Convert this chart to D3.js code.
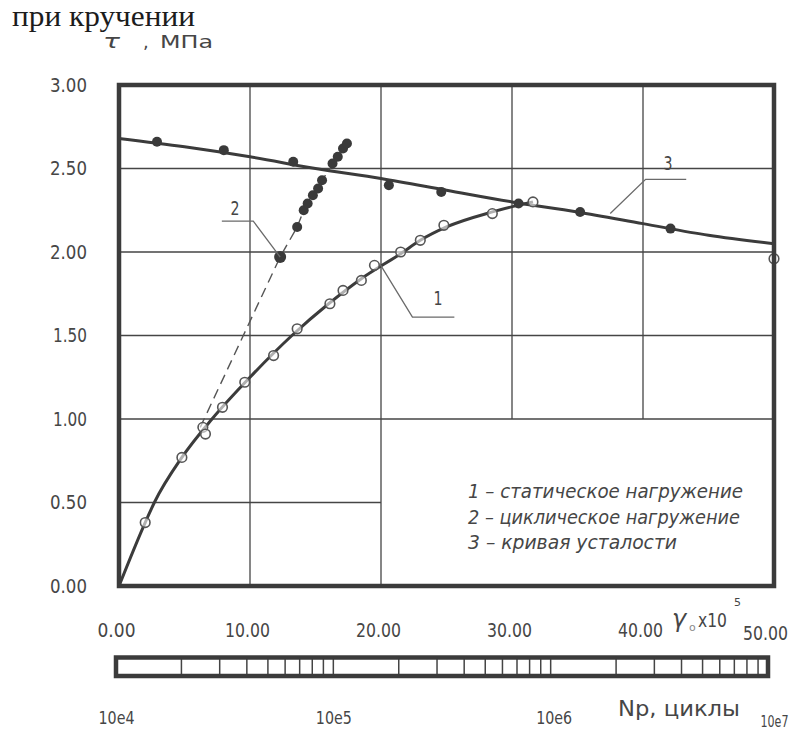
<!DOCTYPE html>
<html>
<head>
<meta charset="utf-8">
<script src="https://cdn.jsdelivr.net/npm/d3@7"></script>
<style>
  body { margin: 0; background: #fff; }
  svg { display: block; }
  .tech { font-family: "DejaVu Sans", "Liberation Sans", sans-serif; fill: #464646; }
</style>
</head>
<body>
<svg id="chart" width="799" height="732"></svg>
<script>
// ---- axis ticks ----
const xTicks = [0, 10, 20, 30, 40, 50];
const yTicks = [0, 0.5, 1.0, 1.5, 2.0, 2.5, 3.0];
const cycleTicks = [1e4, 1e5, 1e6, 1e7];
const cycleTickLabels = ["10e4", "10e5", "10e6", "10e7"];

// ---- curve 1: static loading (solid line, open circles) ----
const staticLineX = [0, 2.0, 2.7, 4.8, 7.1, 10, 13.2, 16, 18.5, 21.5, 23, 25, 28.5, 31.6];
const staticLineY = [0, 0.38, 0.5, 0.77, 1.0, 1.25, 1.5, 1.69, 1.84, 1.99, 2.07, 2.15, 2.24, 2.30];
const staticPtsX = [2.0, 4.8, 6.4, 6.6, 7.9, 9.6, 11.8, 13.6, 16.1, 17.1, 18.5, 19.5, 21.5, 23.0, 24.8, 28.5, 31.6, 50.0];
const staticPtsY = [0.38, 0.77, 0.95, 0.91, 1.07, 1.22, 1.38, 1.54, 1.69, 1.77, 1.83, 1.92, 2.00, 2.07, 2.16, 2.23, 2.30, 1.96];

// ---- curve 2: cyclic loading (dashed line, filled dots) ----
const cyclicLineX = [6.2, 12.3, 13.6, 14.1, 15.5, 17.4];
const cyclicLineY = [0.95, 1.97, 2.15, 2.25, 2.43, 2.65];
const cyclicPtsX = [12.3, 13.6, 14.1, 14.4, 14.8, 15.2, 15.5, 16.3, 16.7, 17.1, 17.4];
const cyclicPtsY = [1.97, 2.15, 2.25, 2.29, 2.34, 2.38, 2.43, 2.53, 2.57, 2.62, 2.65];

// ---- curve 3: fatigue curve (solid line, filled dots) ----
const fatigueLineX = [0, 5, 10, 15, 20, 25, 30, 35, 40, 45, 50];
const fatigueLineY = [2.68, 2.63, 2.57, 2.50, 2.44, 2.37, 2.30, 2.24, 2.17, 2.10, 2.05];
const fatiguePtsX = [2.9, 8.0, 13.3, 20.6, 24.6, 30.5, 35.2, 42.1];
const fatiguePtsY = [2.66, 2.61, 2.54, 2.40, 2.36, 2.29, 2.24, 2.14];

// ---- texts ----
const titleText = "при кручении";
const yAxisSymbol = "τ";
const yAxisUnit = "МПа";
const cycleAxisTitle = "Np, циклы";
const legendLines = ["1 – статическое нагружение", "2 – циклическое нагружение", "3 – кривая усталости"];

const zip = (xs, ys) => xs.map((v, i) => [v, ys[i]]);

const svg = d3.select("#chart");
const ink = "#3b3b3b";

// plot scales: shear strain (x) and shear stress (y)
const x = d3.scaleLinear().domain([0, 50]).range([119, 774]);
const y = d3.scaleLinear().domain([0, 3]).range([586, 85]);
// cycles-to-failure strip under the plot
const n = d3.scaleLog().domain([1e4, 1e7]).range([116, 768]);

// narrow lettering: squeeze glyphs to a given width
const narrow = (sel, w) => sel.attr("textLength", w).attr("lengthAdjust", "spacingAndGlyphs");

// title
svg.append("text")
  .attr("x", 12).attr("y", 26)
  .attr("textLength", 183).attr("lengthAdjust", "spacingAndGlyphs")
  .style("font-family", "'Liberation Serif', 'DejaVu Serif', serif")
  .style("font-size", "30px").style("fill", "#1c1c1c")
  .text(titleText);

// y axis title: τ , МПа
narrow(svg.append("text").attr("class", "tech")
  .attr("x", 103).attr("y", 48).style("font-size", "19px").style("font-style", "italic")
  .text(yAxisSymbol), 17);
svg.append("text").attr("class", "tech")
  .attr("x", 143).attr("y", 48).style("font-size", "18px").text(",");
narrow(svg.append("text").attr("class", "tech")
  .attr("x", 160).attr("y", 48).style("font-size", "18px")
  .text(yAxisUnit), 53);

// grid (the lower-right corner is left free for the legend)
const grid = svg.append("g").attr("stroke", "#454545").attr("stroke-width", 1.3);
xTicks.filter(t => t > 0 && t < 50).forEach(t => {
  grid.append("line")
    .attr("x1", x(t)).attr("x2", x(t))
    .attr("y1", y(3)).attr("y2", t > 20 ? y(1.0) : y(0));
});
yTicks.filter(t => t > 0 && t < 3).forEach(t => {
  grid.append("line")
    .attr("y1", y(t)).attr("y2", y(t))
    .attr("x1", x(0)).attr("x2", t < 1.0 ? x(20) : x(50));
});

// tick labels
const fmt = d3.format(".2f");
const yAxis = svg.append("g").attr("transform", `translate(${x(0)},0)`)
  .call(d3.axisLeft(y).tickValues(yTicks).tickFormat(fmt).tickSize(0).tickPadding(32));
yAxis.select(".domain").remove();
yAxis.selectAll("text").attr("class", "tech").style("font-size", "19px")
  .attr("textLength", d => fmt(d).startsWith("1") ? 34 : 37)
  .attr("lengthAdjust", "spacingAndGlyphs");

const xAxis = svg.append("g").attr("transform", `translate(0,${y(0)})`)
  .call(d3.axisBottom(x).tickValues(xTicks).tickFormat(fmt).tickSize(0));
xAxis.select(".domain").remove();
xAxis.selectAll("text").attr("class", "tech")
  .attr("dy", 0).attr("y", d => d === 50 ? 54 : 51).attr("x", d => d === 50 ? -9 : -3)
  .style("font-size", "19px")
  .attr("textLength", d => fmt(d).length === 4 ? 38 : 45)
  .attr("lengthAdjust", "spacingAndGlyphs");

// x axis title: γ0 x 10^5
const gx = svg.append("g").attr("class", "tech");
gx.append("text").attr("x", 672).attr("y", 627).style("font-size", "24px").style("font-style", "italic").text("γ");
gx.append("text").attr("x", 689).attr("y", 631).style("font-size", "11px").style("fill", "#8a8a8a").text("o");
narrow(gx.append("text").attr("x", 698).attr("y", 627).style("font-size", "19px").text("x10"), 29);
gx.append("text").attr("x", 734).attr("y", 606).style("font-size", "11px").text("5");

// curves
const line = d3.line().x(d => x(d[0])).y(d => y(d[1]));

svg.append("path")
  .datum(zip(cyclicLineX, cyclicLineY))
  .attr("d", line.curve(d3.curveLinear))
  .attr("fill", "none").attr("stroke", "#555").attr("stroke-width", 1.4)
  .attr("stroke-dasharray", "10,6");

svg.append("path")
  .datum(zip(fatigueLineX, fatigueLineY))
  .attr("d", line.curve(d3.curveMonotoneX))
  .attr("fill", "none").attr("stroke", ink).attr("stroke-width", 3);

svg.append("path")
  .datum(zip(staticLineX, staticLineY))
  .attr("d", line.curve(d3.curveMonotoneX))
  .attr("fill", "none").attr("stroke", ink).attr("stroke-width", 3);

// markers
svg.append("g").selectAll("circle")
  .data(zip(staticPtsX, staticPtsY)).join("circle")
  .attr("cx", d => x(d[0])).attr("cy", d => y(d[1])).attr("r", 4.8)
  .attr("fill", "#fff").attr("fill-opacity", 0.6)
  .attr("stroke", "#555").attr("stroke-width", 1.6);

svg.append("g").selectAll("circle")
  .data(zip(fatiguePtsX, fatiguePtsY)).join("circle")
  .attr("cx", d => x(d[0])).attr("cy", d => y(d[1])).attr("r", 5)
  .attr("fill", "#3a3a3a");

svg.append("g").selectAll("circle")
  .data(zip(cyclicPtsX, cyclicPtsY)).join("circle")
  .attr("cx", d => x(d[0])).attr("cy", d => y(d[1]))
  .attr("r", (d, i) => i === 0 ? 6 : 5)
  .attr("fill", "#3a3a3a");

// numbered callouts with leader lines
const callouts = [
  { label: "1", text: [24.35, 1.68], path: [[19.9, 1.93], [22.4, 1.61], [25.6, 1.61]] },
  { label: "2", text: [8.85, 2.22], path: [[12.3, 1.97], [10.25, 2.185], [7.85, 2.185]] },
  { label: "3", text: [41.9, 2.49], path: [[37.5, 2.23], [40.2, 2.435], [43.3, 2.435]] }
];
const cg = svg.append("g");
callouts.forEach(c => {
  cg.append("path")
    .datum(c.path)
    .attr("d", d3.line().x(d => x(d[0])).y(d => y(d[1])))
    .attr("fill", "none").attr("stroke", "#6a6a6a").attr("stroke-width", 1.3);
  cg.append("text").attr("class", "tech")
    .attr("x", x(c.text[0])).attr("y", y(c.text[1]))
    .attr("text-anchor", "middle")
    .style("font-size", "20px")
    .attr("textLength", 9).attr("lengthAdjust", "spacingAndGlyphs")
    .text(c.label);
});

// legend
const lg = svg.append("g");
const legendWidths = [275, 272, 209];
legendLines.forEach((t, i) => {
  lg.append("text").attr("class", "tech")
    .attr("x", 468).attr("y", 498 + i * 25.5)
    .attr("textLength", legendWidths[i]).attr("lengthAdjust", "spacingAndGlyphs")
    .style("font-size", "20px").style("font-style", "italic")
    .text(t);
});

// plot frame
svg.append("rect")
  .attr("x", x(0)).attr("y", y(3))
  .attr("width", x(50) - x(0)).attr("height", y(0) - y(3))
  .attr("fill", "none").attr("stroke", ink).attr("stroke-width", 4.5);

// cycles strip (log scale)
const stripTop = 657.5, stripBottom = 676;
const minorTicks = [];
for (let e = 4; e < 7; e++) {
  for (let m = 2; m <= 9; m++) minorTicks.push(m * Math.pow(10, e));
}
minorTicks.push(1e5, 1e6);
svg.append("g").selectAll("line")
  .data(minorTicks).join("line")
  .attr("x1", d => n(d)).attr("x2", d => n(d))
  .attr("y1", stripTop).attr("y2", stripBottom)
  .attr("stroke", "#444").attr("stroke-width", 1.5);
svg.append("rect")
  .attr("x", n(1e4)).attr("y", stripTop)
  .attr("width", n(1e7) - n(1e4)).attr("height", stripBottom - stripTop)
  .attr("fill", "none").attr("stroke", ink).attr("stroke-width", 4.5);

const nAxis = svg.append("g").attr("transform", `translate(0,${stripBottom})`)
  .call(d3.axisBottom(n).tickValues(cycleTicks).tickFormat((d, i) => cycleTickLabels[i]).tickSize(0));
nAxis.select(".domain").remove();
nAxis.selectAll("text").attr("class", "tech")
  .attr("dy", 0)
  .attr("y", (d, i) => i === 3 ? 51 : 48)
  .attr("x", (d, i) => i === 3 ? 6 : (i === 2 ? 3 : 0))
  .style("font-size", (d, i) => i === 3 ? "15px" : "18px")
  .attr("textLength", (d, i) => i === 3 ? 28 : 36)
  .attr("lengthAdjust", "spacingAndGlyphs");

narrow(svg.append("text").attr("class", "tech")
  .attr("x", 618).attr("y", 716)
  .style("font-size", "22px")
  .text(cycleAxisTitle), 122);
</script>
</body>
</html>
